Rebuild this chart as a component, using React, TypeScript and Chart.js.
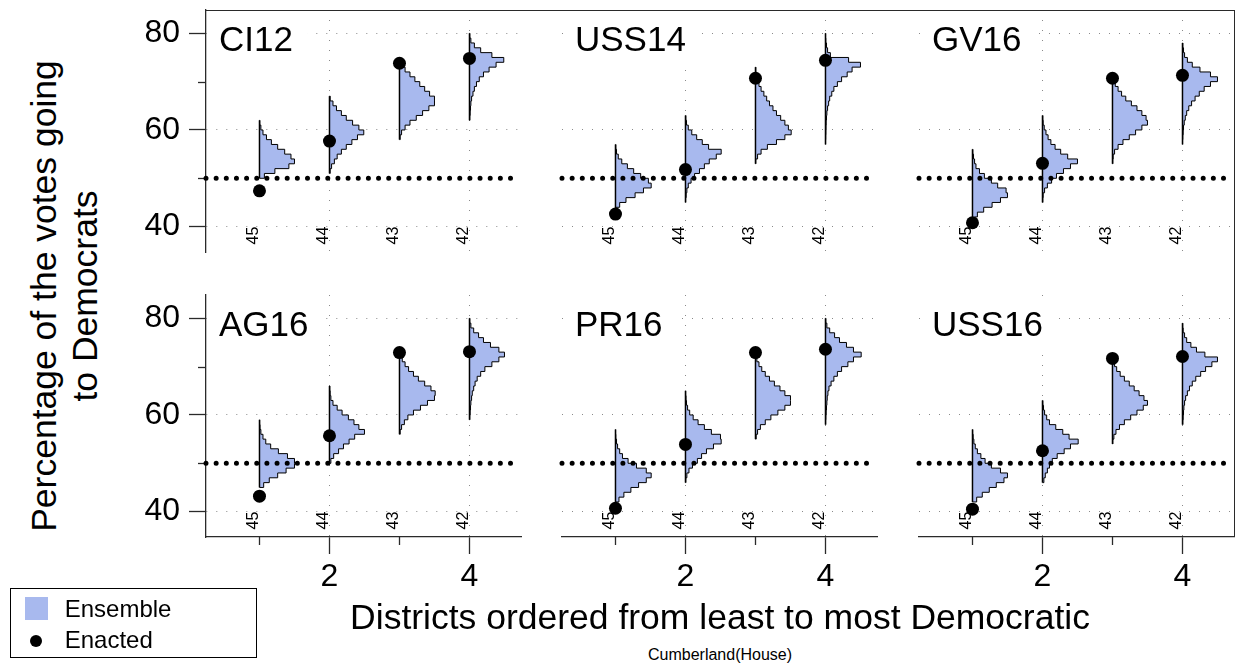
import React, { useEffect, useRef } from 'react';
import { Chart, registerables } from 'chart.js';

Chart.register(...registerables);

const FONT = "'Liberation Sans', Arial, Helvetica, sans-serif";

// ---------------- data ----------------
const PANEL_NAMES = ['CI12', 'USS14', 'GV16', 'AG16', 'PR16', 'USS16'];
const DISTRICT_LABELS = ['45', '44', '43', '42'];
const X_TICKS = [1, 2, 3, 4];
const X_TICK_LABELED = [2, 4];
const Y_TICKS = [40, 50, 60, 70, 80];
const Y_TICK_LABELED = [40, 60, 80];
const MAJORITY_LINE = 50;
const BIN_WIDTH = 1;
const X_AXIS_TITLE = 'Districts ordered from least to most Democratic';
const Y_AXIS_TITLE = ['Percentage of the votes going', 'to Democrats'];
const CAPTION = 'Cumberland(House)';
const LEGEND_LABELS = ['Ensemble', 'Enacted'];

const CI12_ENACTED = [47.4, 57.7, 73.8, 74.8];
const CI12_START = [50, 51, 58, 62];
const CI12_HIST = [
  [0.07, 0.22, 0.42, 0.5, 0.45, 0.36, 0.26, 0.17, 0.1, 0.05, 0.02, 0.005],
  [0.01, 0.03, 0.07, 0.11, 0.17, 0.24, 0.32, 0.4, 0.49, 0.42, 0.33, 0.24, 0.17, 0.1, 0.05, 0.01],
  [0.01, 0.03, 0.08, 0.15, 0.24, 0.33, 0.42, 0.5, 0.5, 0.43, 0.36, 0.29, 0.22, 0.15, 0.08],
  [0.005, 0.01, 0.015, 0.02, 0.03, 0.05, 0.07, 0.1, 0.14, 0.2, 0.28, 0.38, 0.49, 0.32, 0.16, 0.07, 0.02, 0.005],
];

const USS14_ENACTED = [42.6, 51.8, 70.7, 74.4];
const USS14_START = [43, 45, 53, 57];
const USS14_HIST = [
  [0.01, 0.06, 0.15, 0.28, 0.4, 0.51, 0.47, 0.36, 0.26, 0.17, 0.09, 0.04, 0.015, 0.005],
  [0.003, 0.01, 0.02, 0.04, 0.08, 0.13, 0.2, 0.27, 0.34, 0.44, 0.51, 0.33, 0.24, 0.16, 0.09, 0.04, 0.015, 0.005],
  [0.005, 0.03, 0.08, 0.17, 0.3, 0.42, 0.51, 0.47, 0.42, 0.36, 0.3, 0.25, 0.2, 0.16, 0.12, 0.08, 0.05, 0.02, 0.01, 0.005],
  [0.002, 0.004, 0.006, 0.008, 0.01, 0.015, 0.02, 0.03, 0.045, 0.06, 0.09, 0.12, 0.17, 0.23, 0.31, 0.38, 0.5, 0.33, 0.07, 0.03, 0.015, 0.005, 0.002],
];

const GV16_ENACTED = [40.8, 53.1, 70.7, 71.3];
const GV16_START = [41, 45, 53, 57];
const GV16_HIST = [
  [0.03, 0.07, 0.16, 0.28, 0.4, 0.5, 0.48, 0.36, 0.27, 0.17, 0.1, 0.05, 0.03, 0.015, 0.005],
  [0.005, 0.01, 0.03, 0.07, 0.13, 0.2, 0.3, 0.4, 0.5, 0.36, 0.26, 0.18, 0.12, 0.08, 0.05, 0.025, 0.01, 0.005],
  [0.005, 0.01, 0.03, 0.08, 0.15, 0.24, 0.33, 0.42, 0.5, 0.48, 0.42, 0.35, 0.27, 0.19, 0.13, 0.08, 0.04],
  [0.002, 0.005, 0.01, 0.015, 0.025, 0.04, 0.06, 0.09, 0.13, 0.18, 0.24, 0.31, 0.4, 0.5, 0.4, 0.25, 0.14, 0.07, 0.03, 0.015, 0.005],
];

const AG16_ENACTED = [43.2, 55.7, 72.9, 73.1];
const AG16_START = [45, 50, 56, 59];
const AG16_HIST = [
  [0.06, 0.14, 0.26, 0.38, 0.5, 0.5, 0.4, 0.27, 0.16, 0.09, 0.05, 0.02, 0.008, 0.003],
  [0.02, 0.06, 0.13, 0.2, 0.28, 0.36, 0.5, 0.42, 0.35, 0.27, 0.18, 0.11, 0.05, 0.02, 0.01, 0.005],
  [0.01, 0.03, 0.07, 0.12, 0.2, 0.3, 0.4, 0.5, 0.51, 0.45, 0.36, 0.27, 0.2, 0.13, 0.08, 0.04],
  [0.005, 0.01, 0.015, 0.02, 0.03, 0.04, 0.06, 0.08, 0.11, 0.16, 0.22, 0.32, 0.42, 0.5, 0.42, 0.3, 0.2, 0.13, 0.06, 0.02, 0.005],
];

const PR16_ENACTED = [40.7, 53.9, 72.9, 73.6];
const PR16_START = [42, 46, 55, 58];
const PR16_HIST = [
  [0.05, 0.12, 0.22, 0.33, 0.44, 0.51, 0.44, 0.3, 0.18, 0.1, 0.06, 0.03, 0.015, 0.005, 0.002],
  [0.005, 0.02, 0.05, 0.1, 0.17, 0.23, 0.3, 0.4, 0.51, 0.5, 0.37, 0.27, 0.18, 0.11, 0.06, 0.03, 0.015, 0.008, 0.003],
  [0.01, 0.03, 0.07, 0.14, 0.22, 0.32, 0.42, 0.5, 0.5, 0.42, 0.35, 0.27, 0.2, 0.14, 0.09, 0.05, 0.02],
  [0.003, 0.006, 0.01, 0.015, 0.02, 0.025, 0.035, 0.05, 0.08, 0.12, 0.17, 0.23, 0.32, 0.4, 0.51, 0.4, 0.3, 0.2, 0.13, 0.06, 0.02, 0.005],
];

const USS16_ENACTED = [40.5, 52.6, 71.7, 72.1];
const USS16_START = [42, 46, 54, 58];
const USS16_HIST = [
  [0.06, 0.14, 0.24, 0.34, 0.45, 0.5, 0.4, 0.27, 0.18, 0.12, 0.07, 0.04, 0.02, 0.01, 0.003],
  [0.02, 0.04, 0.07, 0.1, 0.14, 0.21, 0.31, 0.4, 0.51, 0.38, 0.29, 0.19, 0.1, 0.06, 0.03, 0.015, 0.005],
  [0.005, 0.02, 0.05, 0.1, 0.17, 0.26, 0.35, 0.44, 0.5, 0.45, 0.38, 0.31, 0.24, 0.17, 0.11, 0.06, 0.03],
  [0.005, 0.01, 0.015, 0.02, 0.03, 0.045, 0.07, 0.1, 0.14, 0.19, 0.26, 0.33, 0.42, 0.5, 0.32, 0.2, 0.12, 0.06, 0.03, 0.01, 0.004],
];

const PANEL_ENACTED = [CI12_ENACTED, USS14_ENACTED, GV16_ENACTED, AG16_ENACTED, PR16_ENACTED, USS16_ENACTED];
const PANEL_START = [CI12_START, USS14_START, GV16_START, AG16_START, PR16_START, USS16_START];
const PANEL_HIST = [CI12_HIST, USS14_HIST, GV16_HIST, AG16_HIST, PR16_HIST, USS16_HIST];

// ---------------- layout / style ----------------
const COL_LEFT = [206, 562, 919];
const ROW_TOP = [10, 295];
const PLOT_W = 315;
const PLOT_H = 242;
const MARGIN_L = 90;
const MARGIN_R = 45;
const MARGIN_T = 10;
const MARGIN_B = 70;
const CANVAS_W = MARGIN_L + PLOT_W + MARGIN_R;
const CANVAS_H = MARGIN_T + PLOT_H + MARGIN_B;
const X_MIN = 0.236;
const X_MAX = 4.736;
const Y_MIN = 34.75;
const Y_MAX = 84.82;
const LABEL_Y_VALUE = 36.3;

const HIST_FILL = '#a8b9ee';
const AXIS_COLOR = '#2a2a2a';
const AXIS_W = 1.3;
const GRID_COLOR = '#8a8a8a';

function histPoints(d: number, start: number, widths: number[]) {
  const n = widths.length;
  const pts = [{ x: d, y: start + n * BIN_WIDTH }];
  for (let k = n - 1; k >= 0; k--) pts.push({ x: d + widths[k], y: start + (k + 1) * BIN_WIDTH });
  pts.push({ x: d, y: start });
  return pts;
}

function zeroPadding(s: any) {
  s.paddingTop = 0;
  s.paddingBottom = 0;
  s.paddingLeft = 0;
  s.paddingRight = 0;
}

function Panel({ index }: { index: number }) {
  const ref = useRef<HTMLCanvasElement | null>(null);
  const col = index % 3;
  const row = Math.floor(index / 3);
  const showY = col === 0;
  const showX = row === 1;

  useEffect(() => {
    const canvas = ref.current;
    if (!canvas) return;
    const name = PANEL_NAMES[index];
    const enacted = PANEL_ENACTED[index];
    const starts = PANEL_START[index];
    const hists = PANEL_HIST[index];

    const datasets: any[] = [];
    datasets.push({
      data: enacted.map((v, i) => ({ x: X_TICKS[i], y: v })),
      showLine: false,
      pointRadius: 6.5,
      pointHoverRadius: 6.5,
      pointBackgroundColor: '#000',
      pointBorderColor: '#000',
      pointBorderWidth: 0,
      borderColor: '#000',
      backgroundColor: '#000',
      order: 0,
      clip: false,
    });
    datasets.push({
      data: [
        { x: X_MIN, y: MAJORITY_LINE },
        { x: X_MAX - 0.1, y: MAJORITY_LINE },
      ],
      borderColor: '#000',
      backgroundColor: '#000',
      borderWidth: 5,
      borderDash: [0, 10.15],
      borderCapStyle: 'round',
      pointRadius: 0,
      fill: false,
      order: 1,
      clip: false,
    });
    hists.forEach((w, i) => {
      const d = X_TICKS[i];
      datasets.push({
        data: [
          { x: d, y: starts[i] },
          { x: d, y: starts[i] + w.length * BIN_WIDTH },
        ],
        borderColor: '#000',
        backgroundColor: '#000',
        borderWidth: 1.5,
        pointRadius: 0,
        fill: false,
        order: 2,
      });
      datasets.push({
        indexAxis: 'y',
        data: histPoints(d, starts[i], w),
        stepped: 'after',
        tension: 0,
        fill: { value: d },
        backgroundColor: HIST_FILL,
        borderColor: '#000',
        borderWidth: 1,
        pointRadius: 0,
        order: 3,
      });
    });

    const decor = {
      id: 'panelDecor',
      beforeDatasetsDraw(chart: any) {
        const { ctx, chartArea } = chart;
        const xs = chart.scales.x;
        const ys = chart.scales.y;
        ctx.save();
        ctx.strokeStyle = AXIS_COLOR;
        ctx.lineWidth = AXIS_W;
        ctx.setLineDash([]);
        if (showY) {
          Y_TICKS.filter((v) => !Y_TICK_LABELED.includes(v)).forEach((v) => {
            const py = Math.round(ys.getPixelForValue(v)) + 0.5;
            ctx.beginPath();
            ctx.moveTo(chartArea.left - 8, py);
            ctx.lineTo(chartArea.left, py);
            ctx.stroke();
          });
        }
        if (showX) {
          X_TICKS.filter((v) => !X_TICK_LABELED.includes(v)).forEach((v) => {
            const px = Math.round(xs.getPixelForValue(v)) + 0.5;
            ctx.beginPath();
            ctx.moveTo(px, chartArea.bottom);
            ctx.lineTo(px, chartArea.bottom + 8);
            ctx.stroke();
          });
        }
        // district labels
        ctx.fillStyle = '#000';
        ctx.font = `16px ${FONT}`;
        ctx.textAlign = 'left';
        ctx.textBaseline = 'alphabetic';
        DISTRICT_LABELS.forEach((lab, i) => {
          const px = xs.getPixelForValue(X_TICKS[i]);
          const py = ys.getPixelForValue(LABEL_Y_VALUE);
          ctx.save();
          ctx.translate(px - 1, py);
          ctx.rotate(-Math.PI / 2);
          ctx.fillText(lab, 0, 0);
          ctx.restore();
        });
        // panel title with white box
        ctx.font = `35px ${FONT}`;
        const tw = ctx.measureText(name).width;
        ctx.fillStyle = '#fff';
        ctx.fillRect(chartArea.left + 1, chartArea.top + 1, 13 + tw + 14, 55);
        ctx.fillStyle = '#000';
        ctx.fillText(name, chartArea.left + 13, chartArea.top + 40.5);
        ctx.restore();
      },
    };

    const chart = new Chart(canvas, {
      type: 'line',
      data: { datasets },
      plugins: [decor],
      options: {
        animation: false,
        responsive: false,
        devicePixelRatio: 1,
        events: [],
        layout: { padding: { left: 0, right: MARGIN_R, top: MARGIN_T, bottom: 0 } },
        plugins: { legend: { display: false }, tooltip: { enabled: false }, title: { display: false } },
        scales: {
          x: {
            type: 'linear',
            min: X_MIN,
            max: X_MAX,
            bounds: 'data',
            afterBuildTicks: (s: any) => {
              s.ticks = X_TICKS.map((v) => ({ value: v }));
            },
            afterFit: (s: any) => {
              s.height = MARGIN_B;
              zeroPadding(s);
            },
            ticks: {
              display: showX,
              autoSkip: false,
              maxRotation: 0,
              minRotation: 0,
              padding: 4,
              color: '#000',
              font: { family: FONT, size: 32 },
              callback: (v: any) => (X_TICK_LABELED.includes(v) ? String(v) : ''),
            },
            grid: {
              color: (c: any) => (c.tick && X_TICK_LABELED.includes(c.tick.value) ? GRID_COLOR : 'rgba(0,0,0,0)'),
              lineWidth: 1,
              drawTicks: showX,
              tickLength: 17,
              tickWidth: AXIS_W,
              tickColor: (c: any) => (c.tick && X_TICK_LABELED.includes(c.tick.value) ? AXIS_COLOR : 'rgba(0,0,0,0)'),
            },
            border: { display: showX, color: AXIS_COLOR, width: AXIS_W, dash: [1, 9] },
          },
          y: {
            type: 'linear',
            min: Y_MIN,
            max: Y_MAX,
            bounds: 'data',
            afterBuildTicks: (s: any) => {
              s.ticks = Y_TICKS.map((v) => ({ value: v }));
            },
            afterFit: (s: any) => {
              s.width = MARGIN_L;
              zeroPadding(s);
            },
            ticks: {
              display: showY,
              autoSkip: false,
              padding: 9,
              color: '#000',
              font: { family: FONT, size: 32 },
              callback: (v: any) => (Y_TICK_LABELED.includes(v) ? String(v) : ''),
            },
            grid: {
              color: (c: any) => (c.tick && Y_TICK_LABELED.includes(c.tick.value) ? GRID_COLOR : 'rgba(0,0,0,0)'),
              lineWidth: 1,
              drawTicks: showY,
              tickLength: 17,
              tickWidth: AXIS_W,
              tickColor: (c: any) => (c.tick && Y_TICK_LABELED.includes(c.tick.value) ? AXIS_COLOR : 'rgba(0,0,0,0)'),
            },
            border: { display: showY, color: AXIS_COLOR, width: AXIS_W, dash: [1, 9] },
          },
        },
      } as any,
    });
    return () => chart.destroy();
  }, [index]);

  return (
    <canvas
      ref={ref}
      width={CANVAS_W}
      height={CANVAS_H}
      style={{
        position: 'absolute',
        left: COL_LEFT[col] - MARGIN_L,
        top: ROW_TOP[row] - MARGIN_T,
        width: CANVAS_W,
        height: CANVAS_H,
      }}
    />
  );
}

export default function App() {
  useEffect(() => {
    document.body.style.margin = '0';
  }, []);
  const frameLeft = COL_LEFT[0];
  const frameRight = COL_LEFT[2] + PLOT_W;
  return (
    <div
      style={{
        position: 'absolute',
        left: 0,
        top: 0,
        width: 1241,
        height: 665,
        background: '#fff',
        overflow: 'hidden',
        fontFamily: FONT,
        color: '#000',
      }}
    >
      {PANEL_NAMES.map((_, i) => (
        <Panel key={i} index={i} />
      ))}
      <div
        style={{
          position: 'absolute',
          left: frameLeft,
          top: ROW_TOP[0] - 0.5,
          width: frameRight - frameLeft + 0.6,
          height: ROW_TOP[1] + PLOT_H - ROW_TOP[0] + 0.5,
          borderTop: `${AXIS_W}px solid ${AXIS_COLOR}`,
          borderRight: `${AXIS_W}px solid ${AXIS_COLOR}`,
          boxSizing: 'border-box',
          pointerEvents: 'none',
        }}
      />
      <div
        style={{
          position: 'absolute',
          left: 65.4,
          top: 295.5,
          transform: 'translate(-50%, -50%) rotate(-90deg)',
          fontSize: 35.5,
          lineHeight: '41px',
          textAlign: 'center',
          whiteSpace: 'nowrap',
        }}
      >
        {Y_AXIS_TITLE[0]}
        <br />
        {Y_AXIS_TITLE[1]}
      </div>
      <div
        style={{
          position: 'absolute',
          left: 120,
          width: 1200,
          top: 600,
          fontSize: 35.5,
          lineHeight: '35.5px',
          textAlign: 'center',
          whiteSpace: 'nowrap',
        }}
      >
        {X_AXIS_TITLE}
      </div>
      <div
        style={{
          position: 'absolute',
          left: 120,
          width: 1200,
          top: 646.5,
          fontSize: 16,
          lineHeight: '16px',
          textAlign: 'center',
          whiteSpace: 'nowrap',
        }}
      >
        {CAPTION}
      </div>
      <div
        style={{
          position: 'absolute',
          left: 10,
          top: 588,
          width: 247,
          height: 70,
          border: `${AXIS_W}px solid #000`,
          boxSizing: 'border-box',
        }}
      >
        <div style={{ position: 'absolute', left: 13.7, top: 7.7, width: 23, height: 23, background: HIST_FILL }} />
        <div
          style={{
            position: 'absolute',
            left: 18.7,
            top: 45.7,
            width: 12,
            height: 12,
            borderRadius: '50%',
            background: '#000',
          }}
        />
        <div style={{ position: 'absolute', left: 53.7, top: 8.4, fontSize: 24, lineHeight: '24px', whiteSpace: 'nowrap' }}>
          {LEGEND_LABELS[0]}
        </div>
        <div style={{ position: 'absolute', left: 53.7, top: 39.4, fontSize: 24, lineHeight: '24px', whiteSpace: 'nowrap' }}>
          {LEGEND_LABELS[1]}
        </div>
      </div>
    </div>
  );
}
